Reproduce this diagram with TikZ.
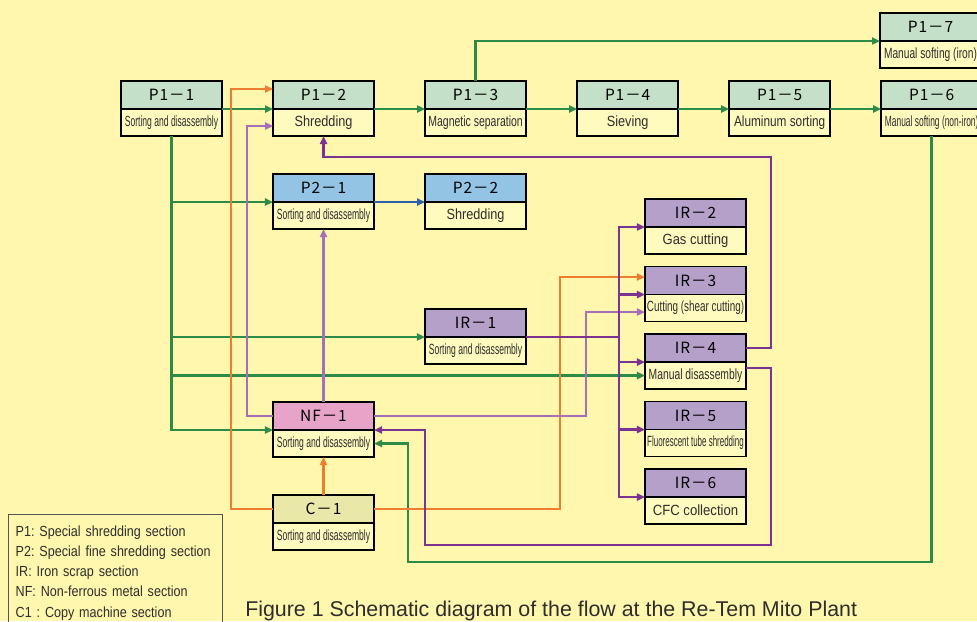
\documentclass[tikz,border=0pt]{standalone}
\usepackage{fontspec}
\setmainfont{Liberation Sans}
\newfontfamily\headfont[LetterSpace=6]{Noto Sans CJK JP}
\newfontfamily\keyfont[FakeStretch=0.86]{Liberation Sans}
\usepackage{graphicx}
\usepackage{tikz}
\usetikzlibrary{positioning,arrows.meta}
\definecolor{bgyellow}{RGB}{255,247,173}
\definecolor{bodyfill}{RGB}{255,250,190}
\definecolor{p1head}{RGB}{197,224,200}
\definecolor{p2head}{RGB}{147,196,228}
\definecolor{irhead}{RGB}{181,160,202}
\definecolor{nfhead}{RGB}{232,163,200}
\definecolor{chead}{RGB}{234,232,168}
\definecolor{lgreen}{RGB}{46,139,71}
\definecolor{lorange}{RGB}{237,125,49}
\definecolor{lpurple}{RGB}{125,50,145}
\definecolor{llilac}{RGB}{168,110,184}
\definecolor{lblue}{RGB}{46,95,168}
\definecolor{keygray}{RGB}{85,85,85}
\definecolor{textgray}{RGB}{45,45,45}
\frenchspacing
\newcommand{\hsq}[2]{\scalebox{#1}[1]{#2}}
\newcommand{\procbox}[5]{%
  \node[headbox,fill=#3,#2] (#1) {#4};
  \node[bodybox,below=0pt of #1] (#1b) {#5};}
\tikzset{
  headbox/.style={rectangle,draw=black,line width=1.3pt,minimum width=2.525cm,minimum height=0.7cm,inner sep=0pt,outer sep=0pt,font=\headfont\fontsize{11}{12}\selectfont},
  bodybox/.style={rectangle,draw=black,line width=1.3pt,fill=bodyfill,minimum width=2.525cm,minimum height=0.675cm,inner sep=0pt,outer sep=0pt,text=textgray,font=\fontsize{10.5}{12}\selectfont},
  keybox/.style={rectangle,draw=keygray,line width=1pt,align=left,text width=5cm,inner xsep=0.175cm,inner ysep=0.27cm,text=textgray,font=\keyfont\fontsize{10.4}{14.4}\selectfont},
  edge/.style={-{Triangle[length=5.7pt,width=5pt]},line width=2pt},
  greenedge/.style={edge,draw=lgreen},
  orangeedge/.style={edge,draw=lorange},
  purpleedge/.style={edge,draw=lpurple},
  lilacedge/.style={edge,draw=llilac},
  blueedge/.style={edge,draw=lblue}
}
\begin{document}
\begin{tikzpicture}[x=0.025cm,y=-0.025cm]
  \useasboundingbox (0,0) rectangle (977,621);
  \clip (0,0) rectangle (977,621);
  \fill[bgyellow] (0,0) rectangle (977,621);

  % P1 line
  \procbox{p11}{anchor=north west,at={(121,81)}}{p1head}{P1－1}{\hsq{0.58}{Sorting and disassembly}}
  \procbox{p12}{right=1.275cm of p11}{p1head}{P1－2}{\hsq{0.86}{Shredding}}
  \procbox{p13}{right=1.275cm of p12}{p1head}{P1－3}{\hsq{0.71}{Magnetic separation}}
  \procbox{p14}{right=1.275cm of p13}{p1head}{P1－4}{\hsq{0.86}{Sieving}}
  \procbox{p15}{right=1.275cm of p14}{p1head}{P1－5}{\hsq{0.80}{Aluminum sorting}}
  \procbox{p16}{right=1.275cm of p15}{p1head}{P1－6}{\hsq{0.57}{Manual softing (non-iron)}}
  \procbox{p17}{anchor=north west,at={(880,13)}}{p1head}{P1－7}{\hsq{0.69}{Manual softing (iron)}}
  % P2 line
  \procbox{p21}{anchor=north west,at={(273,174)}}{p2head}{P2－1}{\hsq{0.58}{Sorting and disassembly}}
  \procbox{p22}{right=1.275cm of p21}{p2head}{P2－2}{\hsq{0.86}{Shredding}}
  % IR line
  \procbox{ir1}{anchor=north west,at={(425,309)}}{irhead}{IR－1}{\hsq{0.58}{Sorting and disassembly}}
  \procbox{ir2}{anchor=north west,at={(645,199)}}{irhead}{IR－2}{\hsq{0.88}{Gas cutting}}
  \procbox{ir3}{below=0.3125cm of ir2b}{irhead}{IR－3}{\hsq{0.67}{Cutting (shear cutting)}}
  \procbox{ir4}{below=0.3125cm of ir3b}{irhead}{IR－4}{\hsq{0.70}{Manual disassembly}}
  \procbox{ir5}{below=0.3125cm of ir4b}{irhead}{IR－5}{\hsq{0.54}{Fluorescent tube shredding}}
  \procbox{ir6}{below=0.3125cm of ir5b}{irhead}{IR－6}{\hsq{0.89}{CFC collection}}
  % NF and C
  \procbox{nf1}{anchor=north west,at={(273,402)}}{nfhead}{NF－1}{\hsq{0.58}{Sorting and disassembly}}
  \procbox{c1}{anchor=north west,at={(273,495)}}{chead}{C－1}{\hsq{0.58}{Sorting and disassembly}}

  % green flows
  \draw[greenedge] (p11.south east) -- (p12.south west);
  \draw[greenedge] (p12.south east) -- (p13.south west);
  \draw[greenedge] (p13.south east) -- (p14.south west);
  \draw[greenedge] (p14.south east) -- (p15.south west);
  \draw[greenedge] (p15.south east) -- (p16.south west);
  \draw[greenedge] (p13.north) |- (p17.south west);
  \draw[greenedge] (p11b.south) |- (p21.south west);
  \draw[greenedge] (p11b.south) |- (ir1.south west);
  \draw[greenedge] (p11b.south) |- (ir4b.west);
  \draw[greenedge] (p11b.south) |- (nf1.south west);
  \coordinate (gbot) at (408,562);
  \draw[greenedge] (p16b.south) |- (gbot) |- (nf1b.east);
  % blue flow
  \draw[blueedge] (p21.south east) -- (p22.south west);
  % orange flows
  \coordinate (otop) at (231,89);
  \draw[orangeedge] (c1.west) -| (otop) -- (p12.west |- otop);
  \draw[orangeedge] (c1.north) -- (nf1b.south);
  \coordinate (oright) at (560,277);
  \draw[orangeedge] (c1.east) -| (oright) -- (ir3.west |- oright);
  % lilac flows
  \coordinate (ltop) at (247,126);
  \draw[lilacedge] (nf1.west) -| (ltop) -- (p12b.west |- ltop);
  \draw[lilacedge] (nf1.north) -- (p21b.south);
  \coordinate (lright) at (586,312);
  \draw[lilacedge] (nf1.east) -| (lright) -- (ir3b.west |- lright);
  % purple flows
  \path (ir1.south east) ++(93,0) coordinate (pjoin);
  \draw[purpleedge] (ir1.south east) -- (pjoin) |- (ir2.south west);
  \draw[purpleedge] (pjoin) |- (ir3.south west);
  \draw[purpleedge] (pjoin) |- (ir4.south west);
  \draw[purpleedge] (pjoin) |- (ir5.south west);
  \draw[purpleedge] (pjoin) |- (ir6.south west);
  \coordinate (ptop) at (771,157);
  \draw[purpleedge] (ir4.east) -| (ptop) -| (p12b.south);
  \coordinate (pmid) at (771,368);
  \coordinate (pbot) at (425,545);
  \draw[purpleedge] (ir4b.east |- pmid) -- (pmid) |- (pbot) |- (nf1.south east);

  % legend and caption
  \node[keybox,anchor=north west] (key) at (8,514) {P1: Special shredding section\\P2: Special fine shredding section\\IR: Iron scrap section\\NF: Non-ferrous metal section\\C1 : Copy machine section};
  \node[anchor=base west,inner sep=0pt,text=textgray,font=\fontsize{15.2}{18}\selectfont] (cap) at (245,616) {Figure 1 Schematic diagram of the flow at the Re-Tem Mito Plant};
\end{tikzpicture}
\end{document}
